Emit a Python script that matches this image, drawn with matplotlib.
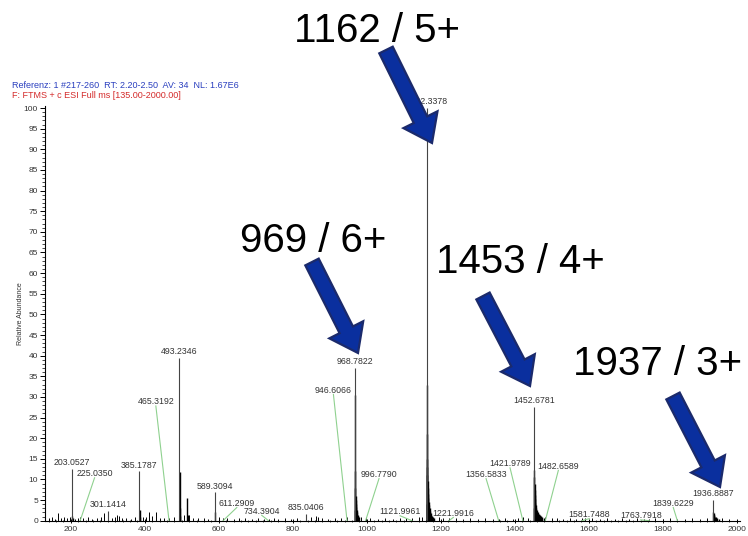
import matplotlib
matplotlib.use("Agg")
import matplotlib.pyplot as plt
from matplotlib.patches import FancyArrow
from matplotlib.ticker import MultipleLocator

# labelled peaks (m/z, relative abundance in %)
PEAK_MZ = [203.0527, 301.1414, 385.1787, 493.2346, 589.3094,
           835.0406, 968.7822, 1162.3378, 1452.6781, 1936.8887]
PEAK_ABUND = [12.6, 2.4, 12.0, 39.4, 6.9, 1.6, 37.0, 100.0, 27.6, 5.0]

# peaks labelled off to the side with a green leader line
LEADER_MZ = [225.0350, 465.3192, 611.2909, 734.3904, 946.6066, 996.7790,
             1121.9961, 1221.9916, 1356.5833, 1421.9789, 1482.6589,
             1581.7488, 1763.7918, 1839.6229]
LEADER_ABUND = [0.8, 0.7, 0.6, 0.5, 1.0, 1.0, 0.6, 0.6, 0.5, 0.8, 0.9,
                0.6, 0.5, 0.4]

# isotope envelopes / tails of the charge states
CLUSTER_MZ = [
    203.9, 204.9,
    386.2, 387.2,
    493.73, 494.23, 494.8,
    515.0, 516.0,
    590.3,
    968.2, 968.95, 969.12, 969.3, 969.6, 970.0, 970.6, 971.3, 972.2,
    973.4, 975.0, 977.0, 979.5,
    1161.6, 1162.54, 1162.74, 1162.94, 1163.3, 1163.8, 1164.4, 1165.0,
    1165.8, 1166.6, 1167.5, 1168.6, 1169.8, 1171.2, 1172.8, 1174.6,
    1176.6, 1179.0, 1181.5,
    1452.43, 1452.93, 1453.18, 1453.43, 1453.8, 1454.3, 1455.0, 1455.9,
    1457.0, 1458.4, 1460.0, 1462.0, 1464.5, 1467.5, 1471.0, 1475.0,
    1480.0,
    1937.2, 1937.6, 1938.5, 1940.0, 1942.0, 1945.0, 1948.0, 1952.0,
]
CLUSTER_ABUND = [
    1.2, 0.6,
    2.6, 1.0,
    11.8, 3.0, 1.2,
    5.6, 1.4,
    2.0,
    2.5, 30.5, 12.0, 8.0, 6.0, 5.0, 4.0, 3.2, 2.6,
    2.0, 1.5, 1.1, 0.8,
    4.0, 33.0, 21.0, 15.0, 13.0, 11.0, 9.5, 8.0,
    6.5, 5.5, 4.5, 3.8, 3.0, 2.4, 1.9, 1.5,
    1.2, 0.9, 0.7,
    3.0, 12.2, 10.5, 8.8, 7.5, 6.2, 5.2, 4.4,
    3.7, 3.1, 2.6, 2.1, 1.7, 1.4, 1.1, 0.9,
    0.7,
    2.2, 1.8, 1.5, 1.3, 1.0, 0.8, 0.6, 0.5,
]

# baseline chemical noise
NOISE_MZ = [142, 150, 158, 165, 172, 181, 190, 197, 210, 218, 232, 246,
            258, 270, 281, 290, 310, 318, 324, 329, 338, 350, 362, 372,
            394, 402, 410, 418, 430, 441, 452, 478, 505, 520, 530, 545,
            560, 572, 600, 622, 640, 655, 672, 690, 705, 722, 748, 760,
            778, 795, 812, 850, 862, 868, 880, 895, 915, 930, 985, 1010,
            1030, 1050, 1070, 1090, 1105, 1140, 1148, 1195, 1205, 1240,
            1260, 1280, 1300, 1320, 1340, 1375, 1395, 1410, 1435, 1500,
            1515, 1530, 1550, 1565, 1590, 1610, 1630, 1650, 1670, 1690,
            1710, 1730, 1750, 1780, 1800, 1820, 1860, 1880, 1900, 1920,
            1960, 1980]
NOISE_ABUND = [0.6, 0.9, 0.5, 1.8, 0.7, 0.9, 0.6, 0.8, 0.5, 0.7, 0.6, 1.0,
               0.5, 0.6, 0.8, 1.9, 0.7, 1.0, 1.4, 1.2, 0.6, 0.7, 0.5, 1.0,
               0.8, 0.9, 2.0, 1.2, 2.0, 0.7, 0.6, 0.8, 1.4, 1.5, 0.7, 0.6,
               0.7, 0.5, 0.9, 0.6, 0.5, 0.7, 0.6, 0.5, 0.6, 0.5, 0.6, 0.5,
               0.7, 0.5, 0.6, 1.0, 1.1, 0.9, 0.6, 0.5, 0.6, 0.7, 0.8, 0.6,
               0.5, 0.6, 0.5, 0.6, 0.7, 0.9, 1.0, 0.8, 0.7, 0.6, 0.5, 0.6,
               0.5, 0.6, 0.5, 0.6, 0.5, 0.7, 0.6, 0.7, 0.6, 0.5, 0.6, 0.5,
               0.7, 0.6, 0.5, 0.6, 0.5, 0.6, 0.5, 0.6, 0.5, 0.6, 0.5, 0.6,
               0.5, 0.6, 0.5, 0.7, 0.6, 0.5]

# where the side labels sit (m/z, abundance of the text centre)
LEADER_TEXT_POS = [(264, 11.4), (429.7, 28.8), (648.6, 4.2), (716, 2.3),
                   (909.8, 31.6), (1033, 11.2), (1090, 2.2), (1234, 1.8),
                   (1322.5, 11.2), (1387.3, 13.8), (1517.9, 13.2),
                   (1601.6, 1.5), (1740.5, 1.2), (1828.6, 4.2)]

# charge-state callouts: text, text centre and arrow tail/tip in figure pixels
CALLOUTS = [
    ("1162 / 5+", (377, 31), (386, 50), (432, 143)),
    ("969 / 6+", (313, 241), (312, 262), (358, 353)),
    ("1453 / 4+", (520, 262), (483, 296), (530, 386)),
    ("1937 / 3+", (658, 364), (673, 396), (720, 487)),
]

W, H = 748, 536


def main():
    plt.rcParams["font.family"] = ["Liberation Sans", "DejaVu Sans"]

    fig = plt.figure(figsize=(W / 100, H / 100), dpi=100)
    fig.patch.set_facecolor("white")
    ax = fig.add_axes([45 / W, 1 - 520.7 / H, 695 / W, 414.7 / H])

    ax.vlines(NOISE_MZ, 0, NOISE_ABUND, color="black", lw=0.7)
    ax.vlines(LEADER_MZ, 0, LEADER_ABUND, color="black", lw=0.7)
    ax.vlines(CLUSTER_MZ, 0, CLUSTER_ABUND, color="black", lw=1.0)
    ax.vlines(PEAK_MZ, 0, PEAK_ABUND, color="#444444", lw=0.8)

    label_kw = dict(fontsize=6.3, color="#333333", ha="center")
    for mz, h in zip(PEAK_MZ, PEAK_ABUND):
        ax.text(mz, h + 0.4, f"{mz:.4f}", va="bottom", clip_on=False,
                **label_kw)
    for mz, (tx, ty) in zip(LEADER_MZ, LEADER_TEXT_POS):
        ax.plot([tx, mz], [ty - 1.0, 0], color="#8fd18f", lw=0.8)
        ax.text(tx, ty, f"{mz:.4f}", va="center", **label_kw)

    ax.set_xlim(130, 2009)
    ax.set_ylim(0, 100.5)
    ax.xaxis.set_major_locator(MultipleLocator(200))
    ax.xaxis.set_minor_locator(MultipleLocator(20))
    ax.yaxis.set_major_locator(MultipleLocator(5))
    ax.yaxis.set_minor_locator(MultipleLocator(1))

    ax.spines["top"].set_visible(False)
    ax.spines["right"].set_visible(False)
    for side in ("left", "bottom"):
        ax.spines[side].set_linewidth(0.8)
    ax.tick_params(which="major", length=3.5, width=0.7, labelsize=6,
                   labelcolor="#333333", pad=1.5)
    ax.tick_params(which="minor", length=2, width=0.5)
    ax.tick_params(axis="x", which="both", direction="inout")
    ax.tick_params(axis="x", which="major", pad=2)

    ax.set_ylabel("Relative Abundance", fontsize=5, labelpad=0,
                  color="#333333")

    # overlay in pixel units for header and callouts
    ov = fig.add_axes([0, 0, 1, 1], facecolor="none")
    ov.set_xlim(0, W)
    ov.set_ylim(H, 0)
    ov.axis("off")

    ov.text(12, 86, "Referenz: 1 #217-260  RT: 2.20-2.50  AV: 34  NL: 1.67E6",
            fontsize=6.5, color="#2a3fbf", va="center")
    ov.text(12, 95, "F: FTMS + c ESI Full ms [135.00-2000.00]",
            fontsize=6.5, color="#d42a2a", va="center")

    for text, (tx, ty), (x0, y0), (x1, y1) in CALLOUTS:
        ov.text(tx, ty, text, fontsize=29, ha="center", va="center",
                color="black")
        ov.add_patch(FancyArrow(x0, y0, x1 - x0, y1 - y0, width=15,
                                head_width=38, head_length=26,
                                length_includes_head=True,
                                fc="#0a2f9e", ec="#1b2a6b", lw=1.6))

    fig.savefig("out.png", dpi=100, facecolor="white")
    plt.close(fig)


if __name__ == "__main__":
    main()
